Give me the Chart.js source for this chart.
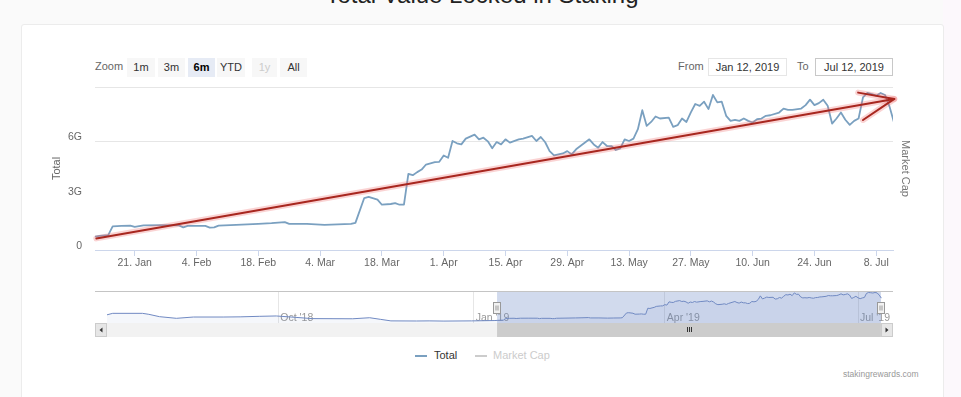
<!DOCTYPE html>
<html>
<head>
<meta charset="utf-8">
<script src="https://cdn.jsdelivr.net/npm/chart.js@4.4.1/dist/chart.umd.min.js"></script>
<style>
  body { margin: 0; width: 961px; height: 397px; overflow: hidden; position: relative;
         background: #fafafa; font-family: 'Liberation Sans', Arial, sans-serif; }
  .abs { position: absolute; }
  .card { left: 21px; top: 24px; width: 921px; height: 400px; background: #fff;
          border: 1px solid #ececec; border-radius: 3px; }
  .strip { left: 943px; top: 0; width: 18px; height: 397px; background: #fcf8fc; }
  .title { left: 0; width: 964px; top: -17px; text-align: center; font-size: 24px;
           line-height: 24px; color: #222; white-space: nowrap; }
  .lbl { font-size: 11px; line-height: 13px; color: #666; top: 60px; }
  .btn { top: 58px; height: 19px; line-height: 19px; background: #f7f7f7; font-size: 11px;
         color: #333; text-align: center; }
  .btn.on { background: #e6ebf5; font-weight: bold; color: #000; }
  .btn.off { color: #cccccc; }
  .date { top: 58px; height: 18px; line-height: 16px; box-sizing: border-box; font-size: 11px;
          color: #333; text-align: center; }
  .leg { top: 349px; font-size: 11px; line-height: 13px; color: #333; }
  .sym { top: 355px; width: 12px; height: 2px; }
  .credit { left: 843px; top: 369px; font-size: 8.5px; line-height: 10px; color: #999; }
</style>
</head>
<body>
<div class="abs strip"></div>
<div class="abs card"></div>
<div class="abs title">Total Value Locked in Staking</div>

<div class="abs lbl" style="left:95px">Zoom</div>
<div class="abs btn" style="left:127px;width:28px">1m</div>
<div class="abs btn" style="left:158px;width:27px">3m</div>
<div class="abs btn on" style="left:188px;width:27px">6m</div>
<div class="abs btn" style="left:217px;width:28px">YTD</div>
<div class="abs btn off" style="left:252px;width:25px">1y</div>
<div class="abs btn" style="left:280px;width:27px">All</div>

<div class="abs lbl" style="left:678px">From</div>
<div class="abs date" style="left:708px;width:79px;border:1px solid #e6e6e6">Jan 12, 2019</div>
<div class="abs lbl" style="left:797px">To</div>
<div class="abs date" style="left:815px;width:78px;border:1px solid #c8c8c8">Jul 12, 2019</div>

<canvas id="cMain" class="abs" width="961" height="290" style="left:0;top:0"></canvas>
<canvas id="cNav" class="abs" width="798" height="46" style="left:95px;top:291px"></canvas>

<div class="abs sym" style="left:415px;background:#7aa0c0"></div>
<div class="abs leg" style="left:434px">Total</div>
<div class="abs sym" style="left:475px;background:#cccccc"></div>
<div class="abs leg" style="left:493px;color:#cccccc">Market Cap</div>
<div class="abs credit">stakingrewards.com</div>

<script>
// days counted from 12 Jan 2019, values in billions (G)
const days = [0, 1, 3, 4, 6, 8, 9, 11, 15, 19,
    20, 21, 25, 26, 27, 28, 32, 37, 40, 43,
    44, 48, 52, 55, 58, 59, 61, 62, 64, 65,
    67, 68, 69, 70, 71, 72, 73, 74, 75, 77,
    78, 79, 80, 81, 82, 83, 84, 86, 87, 88,
    89, 90, 91, 92, 93, 94, 96, 97, 99, 100,
    101, 102, 103, 104, 106, 107, 108, 109, 112, 113,
    114, 115, 116, 117, 118, 119, 120, 121, 122, 123,
    124, 125, 126, 127, 128, 130, 131, 132, 133, 134,
    135, 136, 137, 138, 139, 140, 141, 142, 143, 144,
    145, 146, 147, 148, 149, 150, 151, 152, 153, 155,
    156, 157, 158, 160, 161, 162, 163, 164, 165, 166,
    167, 168, 169, 170, 171, 172, 173, 174, 175, 176,
    177, 178, 179, 180, 181];
const totals = [0.74, 0.78, 0.82, 1.30, 1.33, 1.35, 1.28, 1.36, 1.37, 1.36,
    1.25, 1.33, 1.33, 1.24, 1.25, 1.35, 1.39, 1.44, 1.48, 1.54,
    1.44, 1.44, 1.39, 1.42, 1.44, 1.50, 2.87, 2.93, 2.78, 2.50,
    2.54, 2.59, 2.50, 2.50, 4.20, 4.13, 4.30, 4.44, 4.72, 4.85,
    4.87, 5.22, 5.09, 6.02, 5.89, 5.83, 6.15, 6.37, 6.11, 6.20,
    6.00, 5.62, 5.96, 5.83, 6.11, 5.93, 6.11, 6.15, 6.30, 6.02,
    6.24, 5.95, 5.46, 5.22, 5.33, 5.46, 5.28, 5.56, 6.11, 5.83,
    5.65, 5.96, 5.74, 5.74, 5.52, 5.61, 6.11, 6.02, 6.15, 6.67,
    7.72, 6.85, 7.07, 7.37, 7.26, 7.31, 6.80, 6.89, 7.26, 7.07,
    7.60, 8.06, 7.96, 8.19, 7.78, 8.56, 8.15, 8.19, 7.41, 7.13,
    7.19, 7.13, 7.26, 7.13, 7.04, 7.22, 7.26, 7.41, 7.44, 7.59,
    7.81, 7.74, 7.74, 7.81, 8.00, 8.30, 8.00, 8.11, 8.30, 7.96,
    6.98, 7.26, 7.59, 7.19, 6.91, 7.13, 7.26, 8.43, 8.67, 8.61,
    8.52, 8.67, 8.56, 7.93, 7.07];

// older history, only shown in the navigator
const histDays = [-184, -181, -167, -164, -159, -151, -143, -129, -121, -112,
    -104, -97, -87, -68, -60, -55, -50, -38, -32, -25, -12, -1];
const histTotals = [2.28, 2.75, 2.75, 2.47, 1.80, 1.33, 1.70, 1.70, 1.75, 1.90,
    2.00, 1.70, 1.25, 1.20, 1.50, 1.05, 0.60, 0.57, 0.60, 0.55, 0.60, 0.70];

const tickDays = [9, 23, 37, 51, 65, 79, 93, 107, 121, 135, 149, 163, 177];
const tickLabels = ['21. Jan', '4. Feb', '18. Feb', '4. Mar', '18. Mar', '1. Apr', '15. Apr',
    '29. Apr', '13. May', '27. May', '10. Jun', '24. Jun', '8. Jul'];
const yTicks = [0, 3, 6, 9];
const navTickDays = [-103, -11, 79, 170];
const navTickLabels = ["Oct '18", "Jan '19", "Apr '19", "Jul '19"];
const selRange = [0, 180.8];

// red arrow drawn over the chart
const arrowDays = [0.3, 181.1];
const arrowVals = [0.64, 8.34];
const headDays = [172.9, 181.1, 174.0];
const headVals = [8.69, 8.34, 7.18];

const pts = (xs, ys) => xs.map((x, i) => ({ x: x, y: ys[i] }));

Chart.defaults.font.family = "'Liberation Sans', Arial, sans-serif";
Chart.defaults.animation = false;

const lineColor = '#7aa0c0';
const arrowRed = '#a8271f';
const arrowGlow = 'rgba(240, 110, 110, 0.3)';

new Chart(document.getElementById('cMain'), {
    type: 'line',
    data: {
        datasets: [
            { data: pts(arrowDays, arrowVals), borderColor: arrowRed, borderWidth: 2, clip: false, order: 0 },
            { data: pts(headDays, headVals), borderColor: arrowRed, borderWidth: 2, clip: false, order: 0 },
            { data: pts(arrowDays, arrowVals), borderColor: arrowGlow, borderWidth: 6, clip: false, order: 1 },
            { data: pts(headDays, headVals), borderColor: arrowGlow, borderWidth: 6, clip: false, order: 1 },
            { label: 'Total', data: pts(days, totals), borderColor: lineColor, borderWidth: 1.8, order: 2 }
        ]
    },
    options: {
        responsive: false,
        devicePixelRatio: 1,
        layout: { padding: { left: 46, top: 87, right: 45, bottom: 10 } },
        elements: { point: { radius: 0 }, line: { tension: 0, borderCapStyle: 'round', borderJoinStyle: 'round' } },
        plugins: { legend: { display: false }, tooltip: { enabled: false } },
        scales: {
            x: {
                type: 'linear', min: 0, max: 180.8,
                afterBuildTicks: s => { s.ticks = tickDays.map(v => ({ value: v })); },
                afterFit: s => { s.height = 30; },
                ticks: { callback: (v, i) => tickLabels[i], color: '#666', font: { size: 10.5 },
                         padding: 1, maxRotation: 0, autoSkip: false },
                grid: { drawOnChartArea: false, drawTicks: true, tickLength: 6, tickColor: '#ccd6eb' },
                border: { color: '#ccd6eb' }
            },
            y: {
                position: 'left', min: 0, max: 9,
                afterBuildTicks: s => { s.ticks = yTicks.map(v => ({ value: v })); },
                afterFit: s => { s.width = 49; },
                ticks: { callback: v => v === 9 ? '' : (v === 0 ? '0' : v + 'G'), color: '#666',
                         font: { size: 10.5 }, padding: 13, labelOffset: -4 },
                grid: { drawTicks: false, color: c => (c.tick && c.tick.value >= 6) ? '#e6e6e6' : 'rgba(0,0,0,0)' },
                border: { display: false },
                title: { display: true, text: 'Total', color: '#666', font: { size: 11 }, padding: { top: 4, bottom: 0 } }
            },
            y2: {
                position: 'right',
                afterFit: s => { s.width = 23; },
                ticks: { display: false },
                grid: { display: false },
                border: { display: false },
                title: { display: true, text: 'Market Cap', color: '#777', font: { size: 11 }, padding: { top: 4, bottom: 0 } }
            }
        }
    }
});

// navigator: mask, handles and scrollbar drawn from the x scale
const navChrome = {
    id: 'navChrome',
    beforeDatasetsDraw(chart) {
        const { ctx, chartArea: a, scales: { x } } = chart;
        const x0 = x.getPixelForValue(selRange[0]), x1 = x.getPixelForValue(selRange[1]);
        ctx.save();
        ctx.fillStyle = 'rgba(102, 133, 194, 0.3)';
        ctx.fillRect(x0, a.top, x1 - x0, a.bottom - a.top);
        ctx.restore();
    },
    afterDraw(chart) {
        const { ctx, chartArea: a, scales: { x } } = chart;
        const w = chart.width;
        const x0 = x.getPixelForValue(selRange[0]), x1 = x.getPixelForValue(selRange[1]);
        const sy = a.bottom, sh = chart.height - a.bottom;
        ctx.save();
        ctx.lineWidth = 1;
        ctx.strokeStyle = '#c4c4c4';
        ctx.beginPath(); ctx.moveTo(0, 0.5); ctx.lineTo(w, 0.5); ctx.stroke();

        ctx.fillStyle = '#f2f2f2';
        ctx.fillRect(0, sy, w, sh);
        ctx.fillStyle = '#cccccc';
        ctx.fillRect(x0, sy, x1 - x0, sh);
        const gx = Math.round((x0 + x1) / 2);
        ctx.strokeStyle = '#333';
        [-2, 0, 2].forEach(dx => {
            ctx.beginPath(); ctx.moveTo(gx + dx + 0.5, sy + 4); ctx.lineTo(gx + dx + 0.5, sy + 9); ctx.stroke();
        });
        [[0, 1], [w - 12, -1]].forEach(([bx, dir]) => {
            ctx.fillStyle = '#e6e6e6'; ctx.fillRect(bx, sy, 12, sh);
            ctx.strokeStyle = '#cccccc'; ctx.strokeRect(bx + 0.5, sy + 0.5, 11, sh - 1);
            const cx = bx + 6, cy = sy + sh / 2;
            ctx.fillStyle = '#333';
            ctx.beginPath();
            ctx.moveTo(cx - 1.5 * dir, cy); ctx.lineTo(cx + 1.5 * dir, cy - 2.5); ctx.lineTo(cx + 1.5 * dir, cy + 2.5);
            ctx.fill();
        });
        [x0, x1].forEach(hx => {
            const l = Math.round(hx) - 3.5, t = a.top + 11.5;
            ctx.fillStyle = '#f2f2f2'; ctx.fillRect(l, t, 7, 11);
            ctx.strokeStyle = '#999'; ctx.strokeRect(l, t, 7, 11);
            ctx.beginPath();
            ctx.moveTo(l + 2.5, t + 3); ctx.lineTo(l + 2.5, t + 8);
            ctx.moveTo(l + 4.5, t + 3); ctx.lineTo(l + 4.5, t + 8);
            ctx.stroke();
        });
        ctx.restore();
    }
};

new Chart(document.getElementById('cNav'), {
    type: 'line',
    data: {
        datasets: [{
            data: pts(histDays.concat(days), histTotals.concat(totals)),
            borderColor: '#7089c2', borderWidth: 1, fill: 'origin',
            backgroundColor: 'rgba(51, 92, 173, 0.05)'
        }]
    },
    options: {
        responsive: false,
        devicePixelRatio: 1,
        layout: { padding: { left: 12, right: 11, top: 0, bottom: 14 } },
        elements: { point: { radius: 0 }, line: { tension: 0 } },
        plugins: { legend: { display: false }, tooltip: { enabled: false } },
        scales: {
            x: {
                type: 'linear', min: -183.7, max: 181.3,
                afterBuildTicks: s => { s.ticks = navTickDays.map(v => ({ value: v })); },
                afterFit: s => { s.height = 0; },
                ticks: { callback: (v, i) => navTickLabels[i], align: 'start', labelOffset: 2, padding: -1,
                         mirror: true, color: '#999', font: { size: 10.5 }, maxRotation: 0, autoSkip: false },
                grid: { color: '#e6e6e6', drawTicks: false },
                border: { display: false }
            },
            y: { display: false, min: 0, max: 9.1 }
        }
    },
    plugins: [navChrome]
});
</script>
</body>
</html>
